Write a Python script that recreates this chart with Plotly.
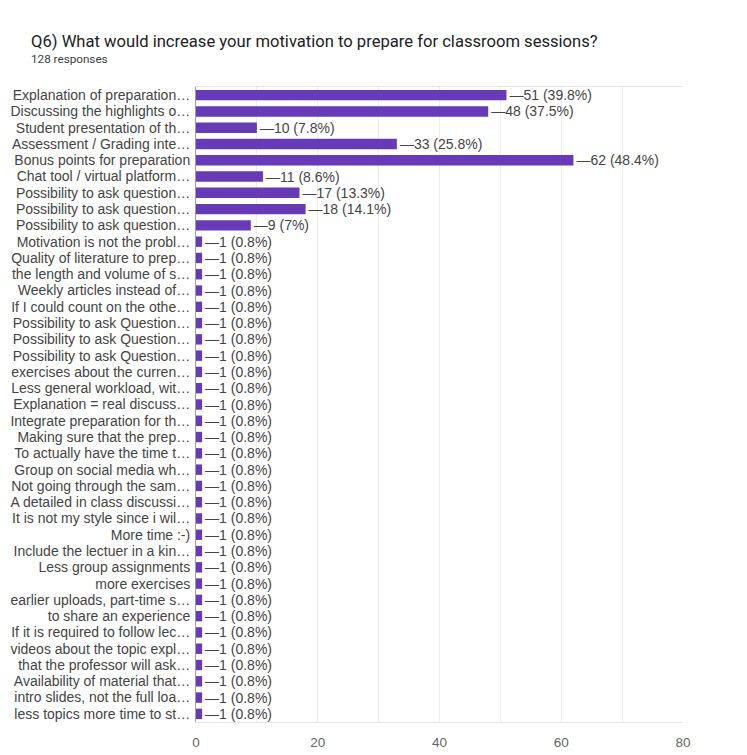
import plotly.graph_objects as go

# Survey answers (truncated as shown in the form summary) and response counts
labels = [
    "Explanation of preparation…",
    "Discussing the highlights o…",
    "Student presentation of th…",
    "Assessment / Grading inte…",
    "Bonus points for preparation",
    "Chat tool / virtual platform…",
    "Possibility to ask question…",
    "Possibility to ask question…",
    "Possibility to ask question…",
    "Motivation is not the probl…",
    "Quality of literature to prep…",
    "the length and volume of s…",
    "Weekly articles instead of…",
    "If I could count on the othe…",
    "Possibility to ask Question…",
    "Possibility to ask Question…",
    "Possibility to ask Question…",
    "exercises about the curren…",
    "Less general workload, wit…",
    "Explanation = real discuss…",
    "Integrate preparation for th…",
    "Making sure that the prep…",
    "To actually have the time t…",
    "Group on social media wh…",
    "Not going through the sam…",
    "A detailed in class discussi…",
    "It is not my style since i wil…",
    "More time :-)",
    "Include the lectuer in a kin…",
    "Less group assignments",
    "more exercises",
    "earlier uploads, part-time s…",
    "to share an experience",
    "If it is required to follow lec…",
    "videos about the topic expl…",
    "that the professor will ask…",
    "Availability of material that…",
    "intro slides, not the full loa…",
    "less topics more time to st…",
]
counts = [51, 48, 10, 33, 62, 11, 17, 18, 9] + [1] * 30
total_responses = 128
x_ticks = [0, 20, 40, 60, 80]

title = "Q6) What would increase your motivation to prepare for classroom sessions?"
subtitle = f"{total_responses} responses"


def fmt_pct(v):
    p = round(v / total_responses * 100, 1)
    s = f"{p:.1f}"
    if s.endswith(".0"):
        s = s[:-2]
    return s


texts = [f"—{v} ({fmt_pct(v)}%)" for v in counts]
positions = list(range(len(labels)))

W, H = 747, 755
L, R, T, B = 196, 64, 87, 33
plot_w = W - L - R
plot_h = H - T - B

fig = go.Figure(
    go.Bar(
        x=counts,
        y=positions,
        orientation="h",
        marker=dict(color="#673ab7", line=dict(width=0)),
        text=texts,
        textposition="outside",
        constraintext="none",
        cliponaxis=False,
        textfont=dict(family="Liberation Sans, Arial", size=14, color="#444444"),
        hoverinfo="skip",
    )
)

fig.update_layout(
    width=W,
    height=H,
    margin=dict(l=L, r=R, t=T, b=B, autoexpand=False),
    paper_bgcolor="white",
    plot_bgcolor="white",
    bargap=0.36,
    showlegend=False,
    font=dict(family="Liberation Sans, Arial", color="#444444"),
)

fig.update_xaxes(
    automargin=False,
    range=[0, 80],
    tickvals=x_ticks,
    ticktext=[str(t) for t in x_ticks],
    tickfont=dict(size=13.5, color="#666666"),
    showgrid=True,
    gridcolor="#ececec",
    gridwidth=1,
    minor=dict(dtick=10, showgrid=True, gridcolor="#ececec", gridwidth=1),
    zeroline=False,
    showline=True,
    linecolor="#e6e6e6",
    mirror=True,
    ticks="outside",
    ticklen=8,
    tickcolor="rgba(0,0,0,0)",
    fixedrange=True,
)

fig.update_yaxes(
    automargin=False,
    tickvals=positions,
    ticktext=labels,
    range=[len(labels) - 0.5, -0.5],
    tickfont=dict(size=14, color="#444444"),
    showgrid=False,
    zeroline=False,
    showline=True,
    linecolor="#9e9e9e",
    linewidth=1,
    ticks="outside",
    ticklen=2,
    tickcolor="rgba(0,0,0,0)",
    fixedrange=True,
)

# Heading and response count above the chart
fig.add_annotation(
    text=title,
    xref="paper", yref="paper",
    x=(29 - L) / plot_w, y=(H - B - 42) / plot_h,
    xanchor="left", yanchor="middle",
    showarrow=False,
    font=dict(family="Roboto, Arial", size=16.6, color="#202124"),
)
fig.add_annotation(
    text=subtitle,
    xref="paper", yref="paper",
    x=(29 - L) / plot_w, y=(H - B - 59) / plot_h,
    xanchor="left", yanchor="middle",
    showarrow=False,
    font=dict(family="Roboto, Arial", size=11.7, color="#3c4043"),
)

fig.write_html("out.html")
